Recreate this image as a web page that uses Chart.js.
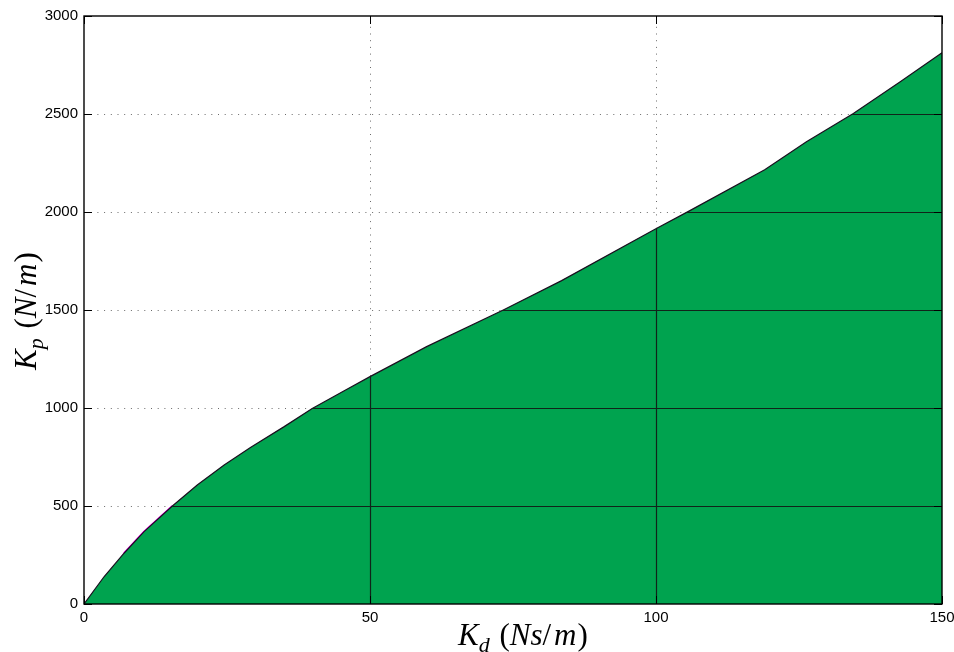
<!DOCTYPE html>
<html>
<head>
<meta charset="utf-8">
<script src="https://cdn.jsdelivr.net/npm/chart.js@4.4.0/dist/chart.umd.min.js"></script>
<style>
  html, body { margin: 0; padding: 0; background: #fff; }
  #wrap { width: 954px; height: 652px; position: relative; }
</style>
</head>
<body>
<div id="wrap"><canvas id="regionChart" width="954" height="652"></canvas></div>
<script>
// Stability boundary Kp(Kd)
const kdValues = [0, 3.5, 7, 10.5, 15.45, 19.8, 24.5, 29.1, 35, 39.9, 45.5, 50, 59.9, 73.3, 83.5, 99.9, 105.6, 119, 126.3, 134.5, 142.7, 150];
const kpValues = [0, 139, 259, 369, 500, 607, 709, 799, 905, 998, 1088, 1160, 1313, 1500, 1650, 1913, 2002, 2215, 2359, 2503, 2665, 2813];
// part of the lower branch is traced a second time in magenta
const lowBranchStart = 2;
const lowBranchEnd = 5;

const kdTicks = [0, 50, 100, 150];
const kpTicks = [0, 500, 1000, 1500, 2000, 2500, 3000];

const fillGreen = '#00a34f';
const tickFont = { family: "'Liberation Sans', Arial, sans-serif", size: 15 };

const toPoints = (xs, ys) => xs.map((x, i) => ({ x: x, y: ys[i] }));

function crisp(v) {
	return Math.round(v) + 0.5;
}

function gridLines(ctx, chart) {
	const a = chart.chartArea;
	const x = chart.scales.x;
	const y = chart.scales.y;
	ctx.beginPath();
	kdTicks.forEach(v => {
		if (v === kdTicks[0] || v === kdTicks[kdTicks.length - 1]) return;
		const px = crisp(x.getPixelForValue(v));
		ctx.moveTo(px, a.bottom);
		ctx.lineTo(px, a.top);
	});
	kpTicks.forEach(v => {
		if (v === kpTicks[0] || v === kpTicks[kpTicks.length - 1]) return;
		const py = crisp(y.getPixelForValue(v));
		ctx.moveTo(a.left, py);
		ctx.lineTo(a.right, py);
	});
	ctx.stroke();
}

// draws a label made of several font runs, starting at (x0, baseline)
function drawPieces(ctx, pieces, x0, baseline) {
	let cx = x0;
	ctx.fillStyle = '#000';
	ctx.textBaseline = 'alphabetic';
	ctx.textAlign = 'left';
	pieces.forEach(p => {
		ctx.font = p.font;
		ctx.fillText(p.text, cx, baseline + (p.dy || 0));
		cx += ctx.measureText(p.text).width + (p.gap || 0);
	});
}

const serifItalic = "italic 31px 'Liberation Serif', 'Times New Roman', serif";
const serifUpright = "31px 'Liberation Serif', 'Times New Roman', serif";
const serifSub = "italic 22px 'Liberation Serif', 'Times New Roman', serif";

const xTitle = [
	{ text: 'K', font: serifItalic },
	{ text: 'd', font: serifSub, dy: 7, gap: 2 },
	{ text: ' (', font: serifUpright },
	{ text: 'Ns', font: serifItalic },
	{ text: '/', font: serifUpright, gap: 3 },
	{ text: 'm', font: serifItalic, gap: 1 },
	{ text: ')', font: serifUpright }
];
const yTitle = [
	{ text: 'K', font: serifItalic },
	{ text: 'p', font: serifSub, dy: 7, gap: 2 },
	{ text: ' (', font: serifUpright },
	{ text: 'N', font: serifItalic },
	{ text: '/', font: serifUpright, gap: 3 },
	{ text: 'm', font: serifItalic, gap: 1 },
	{ text: ')', font: serifUpright }
];

const matlabAxes = {
	id: 'matlabAxes',
	beforeDatasetsDraw(chart) {
		// dotted grid, visible over the white part
		const ctx = chart.ctx;
		ctx.save();
		ctx.strokeStyle = '#6a6a6a';
		ctx.lineWidth = 1;
		ctx.setLineDash([1, 5.7]);
		gridLines(ctx, chart);
		ctx.restore();
	},
	afterDatasetsDraw(chart) {
		// inside the filled region the grid shows as solid dark lines
		const ctx = chart.ctx;
		const pts = chart.getDatasetMeta(0).data;
		const base = chart.scales.y.getPixelForValue(0);
		ctx.save();
		ctx.beginPath();
		ctx.moveTo(pts[0].x, base);
		pts.forEach(p => ctx.lineTo(p.x, p.y));
		ctx.lineTo(pts[pts.length - 1].x, base);
		ctx.closePath();
		ctx.clip();
		ctx.strokeStyle = '#10241a';
		ctx.lineWidth = 1.2;
		gridLines(ctx, chart);
		ctx.restore();
	},
	afterDraw(chart) {
		const ctx = chart.ctx;
		const a = chart.chartArea;
		const x = chart.scales.x;
		const y = chart.scales.y;
		const tick = 8;
		ctx.save();
		ctx.strokeStyle = '#000';
		ctx.lineWidth = 1.4;
		ctx.strokeRect(a.left, a.top, a.right - a.left, a.bottom - a.top);

		ctx.lineWidth = 1;
		ctx.beginPath();
		kdTicks.forEach(v => {
			const px = crisp(x.getPixelForValue(v));
			ctx.moveTo(px, a.bottom);
			ctx.lineTo(px, a.bottom - tick);
			ctx.moveTo(px, a.top);
			ctx.lineTo(px, a.top + tick);
		});
		kpTicks.forEach(v => {
			const py = crisp(y.getPixelForValue(v));
			ctx.moveTo(a.left, py);
			ctx.lineTo(a.left + tick, py);
			ctx.moveTo(a.right, py);
			ctx.lineTo(a.right - tick, py);
		});
		ctx.stroke();

		// axis titles
		drawPieces(ctx, xTitle, 458, 645);
		ctx.translate(36, 370);
		ctx.rotate(-Math.PI / 2);
		drawPieces(ctx, yTitle, 0, 0);
		ctx.restore();
	}
};

const ctx = document.getElementById('regionChart');
ctx.chart = new Chart(ctx, {
	type: 'line',
	data: {
		datasets: [{
			label: 'Kp boundary',
			data: toPoints(kdValues, kpValues),
			borderColor: '#1a0f1f',
			borderWidth: 1.2,
			backgroundColor: fillGreen,
			fill: 'origin',
			tension: 0,
			pointRadius: 0,
			order: 0
		}, {
			label: 'lower branch',
			data: toPoints(kdValues.slice(lowBranchStart, lowBranchEnd), kpValues.slice(lowBranchStart, lowBranchEnd)),
			borderColor: '#ff00ff',
			borderWidth: 2,
			fill: false,
			tension: 0,
			pointRadius: 0,
			order: 1
		}]
	},
	options: {
		responsive: false,
		animation: false,
		devicePixelRatio: 1,
		layout: {
			padding: { left: 0, right: 12, top: 16, bottom: 0 }
		},
		plugins: {
			legend: { display: false },
			tooltip: { enabled: false }
		},
		scales: {
			x: {
				type: 'linear',
				min: 0,
				max: 150,
				afterBuildTicks: scale => { scale.ticks = kdTicks.map(v => ({ value: v })); },
				afterFit: scale => {
					scale.height = 48;
					scale.paddingLeft = 0;
					scale.paddingRight = 0;
				},
				grid: { display: false },
				border: { display: false },
				ticks: {
					font: tickFont,
					color: '#000',
					padding: -3,
					maxRotation: 0,
					callback: v => String(v)
				}
			},
			y: {
				type: 'linear',
				min: 0,
				max: 3000,
				afterBuildTicks: scale => { scale.ticks = kpTicks.map(v => ({ value: v })); },
				afterFit: scale => { scale.width = 84; },
				grid: { display: false },
				border: { display: false },
				ticks: {
					font: tickFont,
					color: '#000',
					padding: -2,
					callback: v => String(v)
				}
			}
		}
	},
	plugins: [matlabAxes]
});
</script>
</body>
</html>
